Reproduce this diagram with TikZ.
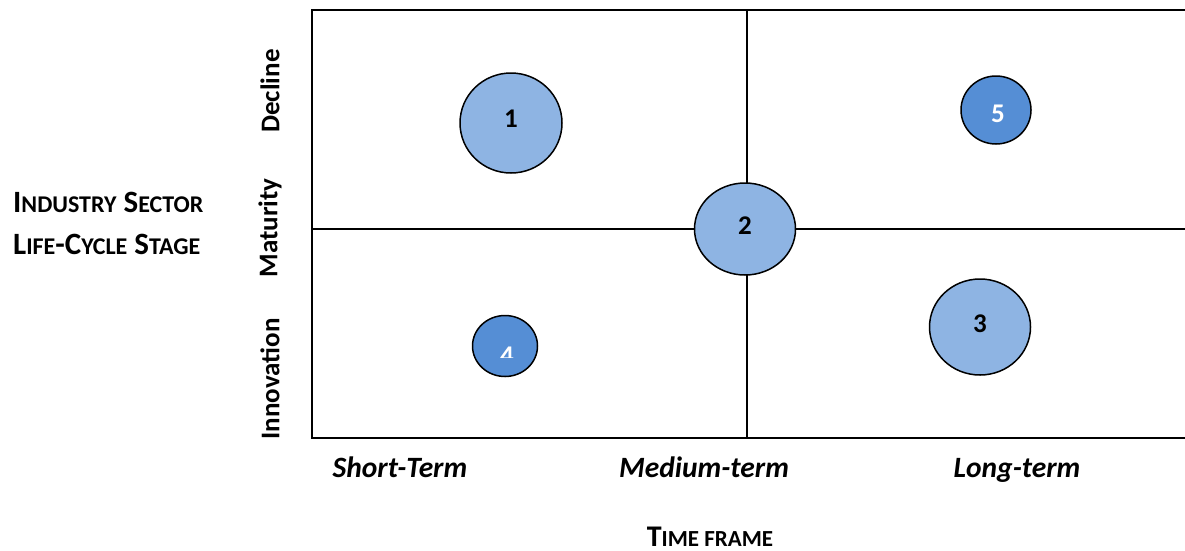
\documentclass[tikz,border=0pt]{standalone}
\usepackage{fontspec}
\setmainfont{Carlito}
\usetikzlibrary{shapes.geometric}
\definecolor{bubblelight}{HTML}{8EB4E3}
\definecolor{bubbledark}{HTML}{558ED5}
% hand-made small caps: full capital, then reduced capitals
\newcommand\redcap[1]{{\fontsize{24}{24}\selectfont #1}}
\newcommand\redcapb[1]{{\fontsize{23}{23}\selectfont #1}}
\begin{document}
\begin{tikzpicture}[x=1pt,y=-1pt,
  gridline/.style={line width=1.6pt,black},
  bubble/.style={ellipse,draw=black,line width=1.5pt,inner sep=0pt},
  digit/.style={font=\fontsize{27}{27}\selectfont\bfseries,inner sep=0pt},
  light/.style={bubble,fill=bubblelight},
  dark/.style={bubble,fill=bubbledark},
  term/.style={font=\fontsize{29.5}{29.5}\selectfont\bfseries\itshape,
    anchor=base,inner sep=0pt},
  stage/.style={rotate=90,font=\fontsize{27}{27}\selectfont\bfseries},
  heading/.style={font=\fontsize{31}{31}\selectfont\bfseries,inner sep=0pt}]
\useasboundingbox (0,0) rectangle (1185,550);

% quadrant frame
\coordinate (tl) at (312,10);
\coordinate (tr) at (1185,10);
\coordinate (bl) at (312,438);
\coordinate (br) at (1185,438);
\coordinate (ml) at (312,229);
\coordinate (mr) at (1185,229);
\coordinate (mt) at (747,10);
\coordinate (mb) at (747,438);
\draw[gridline] (tr) -- (tl) -- (bl) -- (br);
\draw[gridline] (ml) -- (mr);
\draw[gridline] (mt) -- (mb);

% bubbles
\node[light,minimum width=102pt,minimum height=100pt] (b1) at (511,123) {};
\node[light,minimum width=101pt,minimum height=92pt] (b2) at (745,229) {};
\node[light,minimum width=101pt,minimum height=96pt] (b3) at (980,327) {};
\node[dark,minimum width=65pt,minimum height=61pt] (b4) at (505,346) {};
\node[dark,minimum width=70pt,minimum height=68pt] (b5) at (996,110) {};

% bubble numbers
\node[digit] (n1) at (511,119) {1};
\node[digit] (n2) at (745,226) {2};
\node[digit] (n3) at (980,324) {3};
\node[digit,text=white] (n5) at (998,114) {5};
\begin{scope}
  \clip (480,330) rectangle (535,357);
  \node[digit,text=white] (n4) at (507,356) {4};
\end{scope}

% vertical axis
\node[stage] (s1) at (270,91) {Decline};
\node[stage] (s2) at (270,228) {Maturity};
\node[stage] (s3) at (270,379) {Innovation};
\node[heading,anchor=west] (y1) at (13,202)
  {I\redcap{NDUSTRY} S\redcap{ECTOR}};
\node[heading,anchor=west] (y2) at (13,244)
  {L\redcap{IFE}-C\redcap{YCLE} S\redcap{TAGE}};

% horizontal axis
\node[term] (t1) at (400,477) {Short-Term};
\node[term] (t2) at (704,477) {Medium-term};
\node[term] (t3) at (1017,477) {Long-term};
\node[heading,font=\fontsize{30}{30}\selectfont\bfseries] (x1) at (710,537)
  {T\redcapb{IME FRAME}};
\end{tikzpicture}
\end{document}
